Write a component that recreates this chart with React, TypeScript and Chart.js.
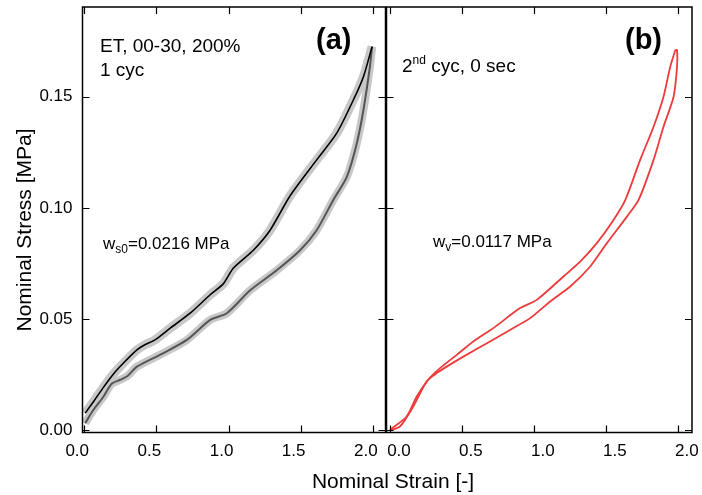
import React, { useEffect, useRef } from 'react';
import { Chart, registerables } from 'chart.js';
Chart.register(...registerables);

// ---- tick values ----
const strainTicks = [0, 0.5, 1.0, 1.5, 2.0];
const stressTicks = [0, 0.05, 0.1, 0.15];

// ---- panel (a): ET, 00-30, 200%, 1 cyc ----
const aLoadStrain = [0.007, 0.07, 0.134, 0.2, 0.272, 0.365, 0.42, 0.49, 0.596, 0.734, 0.873, 0.965, 1.034, 1.172, 1.288, 1.427, 1.611, 1.75, 1.865, 1.935, 1.995];
const aLoadStress = [0.0078, 0.0135, 0.0195, 0.0252, 0.0303, 0.0362, 0.0385, 0.0407, 0.046, 0.0527, 0.061, 0.066, 0.073, 0.081, 0.09, 0.1055, 0.1216, 0.1336, 0.1485, 0.159, 0.1725];
const aUnloadStrain = [1.995, 1.98, 1.935, 1.889, 1.82, 1.726, 1.611, 1.496, 1.334, 1.15, 0.988, 0.873, 0.711, 0.549, 0.365, 0.3, 0.25, 0.19, 0.134, 0.064, 0.007];
const aUnloadStress = [0.1725, 0.1635, 0.144, 0.129, 0.114, 0.1036, 0.09, 0.081, 0.072, 0.063, 0.0527, 0.0497, 0.0407, 0.0348, 0.0287, 0.0245, 0.0228, 0.021, 0.0153, 0.0093, 0.0033];

// ---- panel (b): 2nd cyc, 0 sec ----
const bLoadStrain = [0, 0.116, 0.186, 0.266, 0.348, 0.464, 0.579, 0.718, 0.904, 1.02, 1.205, 1.321, 1.437, 1.553, 1.635, 1.738, 1.831, 1.9, 1.947, 1.982];
const bLoadStress = [0.0003, 0.0063, 0.0153, 0.0228, 0.028, 0.034, 0.04, 0.046, 0.055, 0.0587, 0.0692, 0.0759, 0.0842, 0.0946, 0.1036, 0.1216, 0.1365, 0.15, 0.1635, 0.171];
const bUnloadStrain = [1.982, 1.994, 1.994, 1.97, 1.9, 1.831, 1.727, 1.646, 1.507, 1.391, 1.252, 1.113, 0.974, 0.834, 0.695, 0.51, 0.394, 0.325, 0.255, 0.162, 0.07, 0];
const bUnloadStress = [0.171, 0.171, 0.1635, 0.15, 0.1365, 0.1216, 0.1036, 0.0961, 0.0842, 0.0737, 0.0647, 0.058, 0.0505, 0.0452, 0.04, 0.0332, 0.0287, 0.0258, 0.022, 0.0108, 0.0018, 0];

const FONT = "'Liberation Sans', Arial, Helvetica, sans-serif";

const pts = (xs: number[], ys: number[]) => xs.map((x, i) => ({ x, y: ys[i] }));

type Run = { text: string; size: number; dy?: number; bold?: boolean };
function drawRuns(ctx: CanvasRenderingContext2D, x: number, y: number, runs: Run[]) {
  let cx = x;
  for (const r of runs) {
    ctx.font = `${r.bold ? 'bold ' : ''}${r.size}px ${FONT}`;
    ctx.fillText(r.text, cx, y + (r.dy || 0));
    cx += ctx.measureText(r.text).width;
  }
}

const framePlugin = {
  id: 'frame',
  afterDraw(chart: any) {
    const { ctx, chartArea: a, scales } = chart;
    const xs = scales.x;
    const ys = scales.y;
    ctx.save();
    ctx.strokeStyle = '#000';
    ctx.lineWidth = 1.5;
    ctx.strokeRect(a.left, a.top, a.right - a.left, a.bottom - a.top);
    ctx.lineWidth = 1.2;
    ctx.beginPath();
    const L = 7;
    strainTicks.forEach((v) => {
      const p = Math.round(xs.getPixelForValue(v)) + 0.5;
      ctx.moveTo(p, a.bottom);
      ctx.lineTo(p, a.bottom - L);
      ctx.moveTo(p, a.top);
      ctx.lineTo(p, a.top + L);
    });
    stressTicks.forEach((v) => {
      const p = Math.round(ys.getPixelForValue(v)) + 0.5;
      ctx.moveTo(a.left, p);
      ctx.lineTo(a.left + L, p);
      ctx.moveTo(a.right, p);
      ctx.lineTo(a.right - L, p);
    });
    ctx.stroke();
    ctx.restore();
  },
};

const textA = {
  id: 'textA',
  afterDraw(chart: any) {
    const { ctx } = chart;
    ctx.save();
    ctx.fillStyle = '#000';
    ctx.textBaseline = 'alphabetic';
    ctx.textAlign = 'left';
    drawRuns(ctx, 100, 52, [{ text: 'ET, 00-30, 200%', size: 19 }]);
    drawRuns(ctx, 100, 75.5, [{ text: '1 cyc', size: 19 }]);
    drawRuns(ctx, 316, 49, [{ text: '(a)', size: 29, bold: true }]);
    drawRuns(ctx, 103, 249, [
      { text: 'w', size: 17 },
      { text: 's0', size: 12, dy: 4 },
      { text: '=0.0216 MPa', size: 17 },
    ]);
    // axis titles
    ctx.font = `21px ${FONT}`;
    ctx.textAlign = 'center';
    ctx.fillText('Nominal Strain [-]', 393, 488);
    ctx.translate(31, 230);
    ctx.rotate(-Math.PI / 2);
    ctx.fillText('Nominal Stress [MPa]', 0, 0);
    ctx.restore();
  },
};

const textB = {
  id: 'textB',
  afterDraw(chart: any) {
    const { ctx } = chart;
    ctx.save();
    ctx.fillStyle = '#000';
    ctx.textBaseline = 'alphabetic';
    ctx.textAlign = 'left';
    drawRuns(ctx, 625, 49, [{ text: '(b)', size: 29, bold: true }]);
    drawRuns(ctx, 402, 72, [
      { text: '2', size: 19 },
      { text: 'nd', size: 12, dy: -8 },
      { text: ' cyc, 0 sec', size: 19 },
    ]);
    drawRuns(ctx, 433, 247, [
      { text: 'w', size: 17 },
      { text: 'v', size: 12, dy: 4 },
      { text: '=0.0117 MPa', size: 17 },
    ]);
    ctx.restore();
  },
};

function makeOptions(opts: { padL: number; padR: number; xMin: number; xMax: number; labelOffset: number; showY: boolean }) {
  return {
    animation: false as const,
    responsive: false,
    layout: { padding: { left: opts.padL, top: 7, right: opts.padR, bottom: 0 } },
    plugins: { legend: { display: false }, tooltip: { enabled: false }, title: { display: false } },
    elements: { point: { radius: 0 }, line: { tension: 0.25 } },
    scales: {
      x: {
        type: 'linear' as const,
        min: opts.xMin,
        max: opts.xMax,
        grid: { display: false, drawTicks: false },
        border: { display: false },
        ticks: {
          stepSize: 0.5,
          includeBounds: false,
          autoSkip: false,
          maxRotation: 0,
          padding: 9,
          labelOffset: opts.labelOffset,
          color: '#000',
          font: { family: FONT, size: 17 },
          callback: (v: any) => Number(v).toFixed(1),
        },
        afterFit: (s: any) => {
          s.height = 62.5;
          s.paddingLeft = 0;
          s.paddingRight = 0;
        },
      },
      y: {
        type: 'linear' as const,
        display: opts.showY,
        min: -0.0009,
        max: 0.1903,
        grid: { display: false, drawTicks: false },
        border: { display: false },
        ticks: {
          stepSize: 0.05,
          includeBounds: false,
          autoSkip: false,
          padding: 10,
          color: '#000',
          font: { family: FONT, size: 17 },
          callback: (v: any) => Math.abs(Number(v)).toFixed(2),
        },
        afterFit: (s: any) => {
          if (opts.showY) s.width = 82.5;
          s.paddingTop = 0;
          s.paddingBottom = 0;
        },
      },
    },
  };
}

export default function App() {
  const refA = useRef<HTMLCanvasElement>(null);
  const refB = useRef<HTMLCanvasElement>(null);

  useEffect(() => {
    const band = '#c8c8c8';
    const chartA = new Chart(refA.current as HTMLCanvasElement, {
      type: 'line',
      data: {
        datasets: [
          { data: pts(aLoadStrain, aLoadStress), borderColor: '#000', borderWidth: 1.6, order: 1 },
          { data: pts(aUnloadStrain, aUnloadStress), borderColor: '#555', borderWidth: 2, order: 1 },
          { data: pts(aLoadStrain, aLoadStress), borderColor: band, borderWidth: 9, order: 2 },
          { data: pts(aUnloadStrain, aUnloadStress), borderColor: band, borderWidth: 8, order: 2 },
        ],
      },
      options: makeOptions({ padL: 0, padR: 702 - 385.5, xMin: -0.012, xMax: 2.088, labelOffset: -7, showY: true }) as any,
      plugins: [framePlugin, textA],
    });
    const red = 'rgb(238,58,58)';
    const chartB = new Chart(refB.current as HTMLCanvasElement, {
      type: 'line',
      data: {
        datasets: [
          { data: pts(bLoadStrain, bLoadStress), borderColor: red, borderWidth: 1.8 },
          { data: pts(bUnloadStrain, bUnloadStress), borderColor: red, borderWidth: 1.8 },
        ],
      },
      options: makeOptions({ padL: 386.5, padR: 702 - 692, xMin: -0.024, xMax: 2.098, labelOffset: 9, showY: false }) as any,
      plugins: [framePlugin, textB],
    });
    return () => {
      chartA.destroy();
      chartB.destroy();
    };
  }, []);

  return (
    <div style={{ position: 'absolute', left: 0, top: 0, width: 702, height: 495, background: '#fff' }}>
      <canvas ref={refA} width={702} height={495} style={{ position: 'absolute', left: 0, top: 0 }} />
      <canvas ref={refB} width={702} height={495} style={{ position: 'absolute', left: 0, top: 0 }} />
    </div>
  );
}
